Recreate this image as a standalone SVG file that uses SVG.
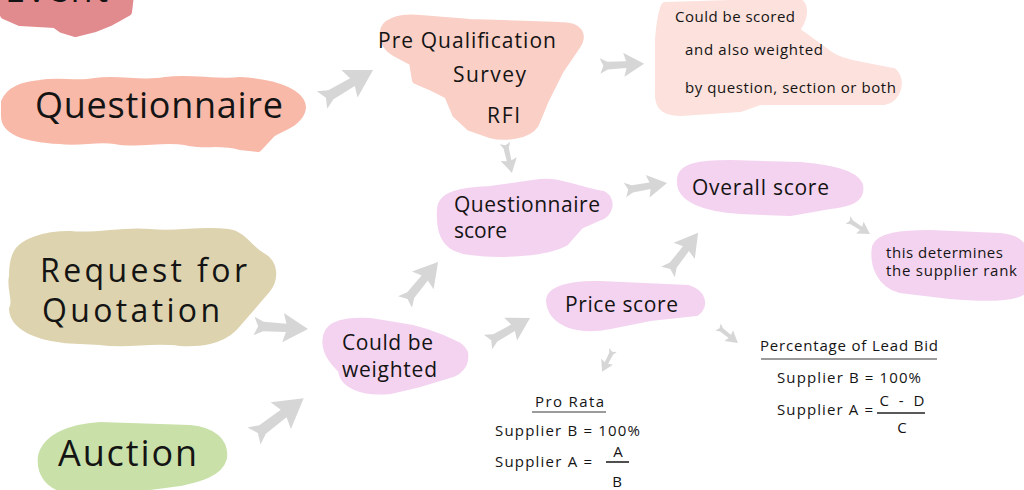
<svg xmlns="http://www.w3.org/2000/svg" xmlns:xlink="http://www.w3.org/1999/xlink" width="1024" height="490" viewBox="0 0 1024 490">
<defs>
<style>
.t{font-family:"Open Sans","DejaVu Sans",sans-serif;fill:#141414}
.big{font-size:36px}
.rqt{font-size:32px}
.mid{font-size:21px}
.sm{font-size:15px}
.blob{stroke-width:8;stroke-linejoin:round}
.ev{fill:#e28b8e;stroke:#e28b8e}
.qn{fill:#f8b9a9;stroke:#f8b9a9}
.pq{fill:#f9cfc6;stroke:#f9cfc6}
.nt{fill:#fce1dc;stroke:#fce1dc}
.pk{fill:#f4d3f0;stroke:#f4d3f0}
.rq{fill:#ddd3ae;stroke:#ddd3ae}
.au{fill:#c9e1a9;stroke:#c9e1a9}
.ul{stroke:#7a7a7a;stroke-width:1.6}
.fr{stroke:#222;stroke-width:1.6}
</style>
<path id="arr" d="M0,-9 L9,-4.5 L31,-4 L28,-14 L52,0 L28,14 L31,4 L9,4.5 L0,9 L4,0 Z" fill="#d6d6d6"/>
</defs>
<rect width="1024" height="490" fill="#ffffff"/>

<g id="connectors">
<use xlink:href="#arr" transform="translate(322,100) rotate(-30.5) scale(1.14)"/>
<use xlink:href="#arr" transform="translate(600,66) rotate(-3) scale(0.85)"/>
<use xlink:href="#arr" transform="translate(505,143) rotate(77) scale(0.59)"/>
<use xlink:href="#arr" transform="translate(625,190) rotate(-9.5) scale(0.82)"/>
<use xlink:href="#arr" transform="translate(848,220) rotate(32.5) scale(0.5)"/>
<use xlink:href="#arr" transform="translate(668,272) rotate(-52.4) scale(0.95)"/>
<use xlink:href="#arr" transform="translate(405,302) rotate(-50.5) scale(1.0)"/>
<use xlink:href="#arr" transform="translate(488,342) rotate(-29.7) scale(0.93)"/>
<use xlink:href="#arr" transform="translate(254,326) rotate(3.2) scale(1.04)"/>
<use xlink:href="#arr" transform="translate(254,436) rotate(-37.2) scale(1.2)"/>
<use xlink:href="#arr" transform="translate(613,350) rotate(116.6) scale(0.47)"/>
<use xlink:href="#arr" transform="translate(718,327) rotate(38.7) scale(0.49)"/>
</g>

<g id="event">
<path class="blob ev" d="M0,-5 L130,-5 L128,12 L110,22 L95,28 L75,33 L62,29 L55,24 L20,22 L4,15 Z"/>
<text class="t big" x="5" y="2" textLength="103">Event</text>
</g>

<g id="questionnaire">
<path class="blob qn" d="M5,102 C10,90 22,86 40,84 C60,80 75,86 95,82 C120,78 140,86 165,81 C190,77 215,84 240,81 C280,83 302,95 302,108 C300,122 282,127 272,133 L258,148 L240,146 C220,140 205,146 185,141 C160,137 140,145 115,140 C95,137 80,143 60,140 C22,138 5,130 5,116 Z"/>
<text class="t big" x="35" y="118" textLength="248">Questionnaire</text>
</g>

<g id="prequal">
<path class="blob pq" d="M384,35 C382,22 400,17 420,19 L470,23 L560,26 C580,26 583,35 577,45 L560,70 L545,100 L535,124 C528,135 506,138 490,134 L470,127 L456,114 L448,95 L430,86 L416,80 L413,62 L396,53 C387,48 384,42 384,35 Z"/>
<text class="t mid" x="378" y="48" textLength="178">Pre Qualification</text>
<text class="t mid" x="453" y="82" textLength="73">Survey</text>
<text class="t mid" x="487" y="123" textLength="33">RFI</text>
</g>

<g id="note">
<path class="blob nt" d="M665,6 L798,2 C806,6 804,20 795,30 L828,54 C840,64 870,67 893,72 C902,80 898,98 884,101 L760,101 L740,108 L680,112 C662,112 658,104 659,90 L659,40 C660,25 661,15 665,6 Z"/>
<text class="t sm" x="675" y="22" textLength="120">Could be scored</text>
<text class="t sm" x="685" y="55" textLength="138">and also weighted</text>
<text class="t sm" x="685" y="93" textLength="211">by question, section or both</text>
</g>

<g id="qscore">
<path class="blob pk" d="M441,210 C441,196 460,191 490,190 L540,183 C560,181 575,190 603,195 C612,200 610,214 598,217 L580,225 L565,242 C545,253 500,255 470,251 C451,249 439,240 441,210 Z"/>
<text class="t mid" x="454" y="212" textLength="146">Questionnaire</text>
<text class="t mid" x="454" y="238" textLength="53">score</text>
</g>

<g id="overall">
<path class="blob pk" d="M681,180 C681,167 700,164 730,164 L800,166 C830,169 853,173 859,185 C862,199 849,203 830,205 L790,212 L740,210 C706,208 679,199 681,180 Z"/>
<text class="t mid" x="692" y="195" textLength="137">Overall score</text>
</g>

<g id="rank">
<path class="blob pk" d="M876,247 C880,237 900,234 930,234 L1000,237 C1024,239 1024,250 1024,260 L1024,290 C1015,298 985,298 950,295 L900,289 C881,284 873,265 876,247 Z"/>
<text class="t sm" x="886" y="258" textLength="117">this determines</text>
<text class="t sm" x="886" y="276" textLength="131">the supplier rank</text>
</g>

<g id="price">
<path class="blob pk" d="M550,301 C550,290 570,284 600,285 L688,289 C702,293 705,305 696,312 L650,317 L610,325 C580,331 552,324 550,301 Z"/>
<text class="t mid" x="565" y="312" textLength="113">Price score</text>
</g>

<g id="weighted">
<path class="blob pk" d="M327,336 C330,324 346,321 370,322 L395,326 C420,329 444,339 458,346 C469,353 465,367 453,373 L420,383 L390,390 C362,393 343,384 342,370 C332,360 324,350 327,336 Z"/>
<text class="t mid" x="342" y="350" textLength="91">Could be</text>
<text class="t mid" x="342" y="377" textLength="95">weighted</text>
</g>

<g id="rfq">
<path class="blob rq" d="M16,256 C21,242 45,235 70,235 C100,238 120,230 150,233 C180,236 200,229 228,233 C243,235 249,249 261,256 C275,263 275,279 266,290 L234,327 C220,341 200,343 180,342 C150,338 130,345 100,341 L80,340 C42,339 14,328 13,309 C18,300 10,290 13,276 C13,266 14,261 16,256 Z"/>
<text class="t rqt" x="40" y="282" textLength="207">Request for</text>
<text class="t rqt" x="42" y="322" textLength="178">Quotation</text>
</g>

<g id="auction">
<path class="blob au" d="M42,456 C47,437 71,428 100,426 L190,429 C213,431 225,442 223,458 C219,473 199,478 180,482 L120,490 L70,490 C47,486 40,471 42,456 Z"/>
<text class="t big" x="58" y="466" textLength="139">Auction</text>
</g>

<g id="prorata">
<text class="t sm" x="535" y="407" textLength="69">Pro Rata</text>
<line class="ul" x1="532" y1="412" x2="606" y2="412"/>
<text class="t sm" x="495" y="436" textLength="145">Supplier B = 100%</text>
<text class="t sm" x="495" y="467" textLength="97">Supplier A =</text>
<text class="t sm" x="618" y="457" text-anchor="middle">A</text>
<line class="fr" x1="606" y1="462" x2="629" y2="462"/>
<text class="t sm" x="617" y="487" text-anchor="middle">B</text>
</g>

<g id="leadbid">
<text class="t sm" x="760" y="351" textLength="178">Percentage of Lead Bid</text>
<line class="ul" x1="761" y1="359" x2="937" y2="359"/>
<text class="t sm" x="777" y="383" textLength="144">Supplier B = 100%</text>
<text class="t sm" x="777" y="415" textLength="96">Supplier A =</text>
<text class="t sm" x="902" y="406" text-anchor="middle" textLength="45">C - D</text>
<line class="fr" x1="877" y1="413" x2="925" y2="413"/>
<text class="t sm" x="902" y="433" text-anchor="middle">C</text>
</g>
</svg>
